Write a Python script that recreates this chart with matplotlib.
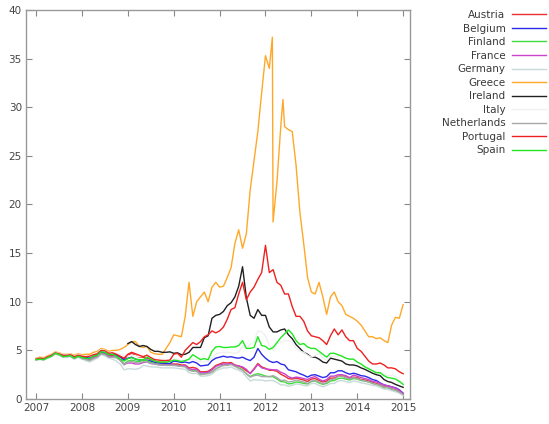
import numpy as np
import matplotlib
matplotlib.use("Agg")
import matplotlib.pyplot as plt

# monthly grid: Jan 2007 .. Jan 2015
months = [2007 + m / 12 for m in range(97)]
nan = float("nan")

austria = [4.05, 4.15, 4.1, 4.3, 4.45, 4.7, 4.6, 4.4, 4.4, 4.45, 4.25, 4.4,
           4.25, 4.2, 4.1, 4.3, 4.4, 4.75, 4.65, 4.45, 4.5, 4.5, 4.3, 4.1,
           4.5, 4.7, 4.5, 4.3, 4.3, 4.2, 4.05, 3.9, 3.8, 3.75, 3.7, 3.6,
           3.6, 3.6, 3.5, 3.5, 3.2, 3.25, 3.15, 2.8, 2.8, 2.85, 3.1, 3.45,
           3.6, 3.75, 3.7, 3.75, 3.5, 3.4, 3.2, 2.9, 2.65, 3.1, 3.65, 3.3,
           3.15, 2.95, 2.95, 2.85, 2.55, 2.35, 2.1, 2.05, 2.15, 2.05, 1.95, 1.8,
           2.05, 2.1, 1.9, 1.75, 1.85, 2.15, 2.15, 2.35, 2.4, 2.25, 2.1, 2.25,
           2.2, 2.0, 1.95, 1.85, 1.7, 1.6, 1.45, 1.25, 1.2, 1.05, 0.95, 0.75,
           0.5]
belgium = [4.1, 4.15, 4.1, 4.3, 4.45, 4.7, 4.6, 4.45, 4.45, 4.5, 4.3, 4.5,
           4.35, 4.3, 4.2, 4.4, 4.55, 4.85, 4.75, 4.55, 4.6, 4.5, 4.35, 4.0,
           4.2, 4.3, 4.1, 4.0, 4.0, 4.0, 3.9, 3.75, 3.7, 3.65, 3.65, 3.65,
           3.9, 3.85, 3.75, 3.8, 3.7, 3.85, 3.7, 3.4, 3.45, 3.5, 3.95, 4.2,
           4.3, 4.4, 4.3, 4.35, 4.25, 4.2, 4.3, 4.1, 3.95, 4.3, 5.2, 4.6,
           4.2, 3.9, 3.75, 3.85, 3.6, 3.5, 3.0, 2.9, 2.8, 2.6, 2.45, 2.25,
           2.45, 2.5, 2.35, 2.2, 2.3, 2.7, 2.7, 2.9, 2.9, 2.7, 2.55, 2.65,
           2.55, 2.4, 2.35, 2.2, 2.0, 1.9, 1.65, 1.45, 1.35, 1.25, 1.15, 0.95,
           0.6]
finland = [4.05, 4.1, 4.05, 4.25, 4.4, 4.65, 4.55, 4.4, 4.4, 4.4, 4.2, 4.4,
           4.2, 4.1, 4.0, 4.2, 4.35, 4.7, 4.6, 4.35, 4.3, 4.25, 4.0, 3.6,
           3.9, 4.0, 3.9, 3.85, 4.0, 3.95, 3.75, 3.65, 3.55, 3.55, 3.5, 3.5,
           3.5, 3.45, 3.4, 3.35, 3.0, 2.9, 2.9, 2.55, 2.6, 2.65, 2.8, 3.1,
           3.3, 3.5, 3.5, 3.6, 3.4, 3.2, 3.0, 2.6, 2.3, 2.5, 2.6, 2.5,
           2.35, 2.3, 2.3, 2.05, 1.8, 1.75, 1.55, 1.6, 1.75, 1.7, 1.6, 1.55,
           1.8, 1.85, 1.65, 1.5, 1.6, 1.85, 1.9, 2.1, 2.15, 2.05, 1.95, 2.1,
           2.05, 1.9, 1.85, 1.75, 1.6, 1.5, 1.35, 1.15, 1.15, 1.0, 0.9, 0.7,
           0.45]
france = [4.05, 4.1, 4.05, 4.25, 4.4, 4.65, 4.55, 4.35, 4.4, 4.4, 4.2, 4.4,
          4.2, 4.1, 4.05, 4.25, 4.35, 4.7, 4.6, 4.4, 4.35, 4.3, 4.0, 3.55,
          3.7, 3.7, 3.6, 3.6, 3.75, 3.8, 3.65, 3.6, 3.55, 3.5, 3.5, 3.5,
          3.5, 3.45, 3.4, 3.45, 3.1, 3.05, 3.05, 2.7, 2.7, 2.75, 3.0, 3.35,
          3.5, 3.6, 3.6, 3.65, 3.45, 3.4, 3.3, 3.05, 2.6, 3.05, 3.55, 3.2,
          3.1, 3.05, 3.0, 3.0, 2.75, 2.6, 2.3, 2.15, 2.25, 2.2, 2.1, 2.0,
          2.2, 2.3, 2.05, 1.85, 2.0, 2.35, 2.35, 2.5, 2.5, 2.4, 2.2, 2.45,
          2.35, 2.2, 2.1, 2.0, 1.8, 1.75, 1.6, 1.45, 1.35, 1.25, 1.1, 0.9,
          0.55]
germany = [4.0, 4.05, 4.0, 4.2, 4.35, 4.6, 4.5, 4.3, 4.3, 4.35, 4.1, 4.3,
           4.1, 3.95, 3.8, 4.0, 4.2, 4.55, 4.45, 4.2, 4.1, 3.9, 3.6, 3.0,
           3.1, 3.1, 3.05, 3.15, 3.45, 3.4, 3.3, 3.3, 3.25, 3.2, 3.2, 3.2,
           3.2, 3.15, 3.1, 3.05, 2.7, 2.6, 2.65, 2.35, 2.35, 2.4, 2.55, 2.9,
           3.05, 3.2, 3.2, 3.3, 3.1, 2.95, 2.75, 2.3, 1.85, 2.0, 1.95, 1.95,
           1.85, 1.9, 1.9, 1.7, 1.45, 1.45, 1.3, 1.4, 1.55, 1.5, 1.4, 1.35,
           1.6, 1.6, 1.4, 1.25, 1.4, 1.6, 1.6, 1.85, 1.9, 1.8, 1.7, 1.85,
           1.8, 1.65, 1.6, 1.5, 1.4, 1.35, 1.2, 1.0, 1.0, 0.85, 0.75, 0.6,
           0.35]
ireland = [nan] * 24 + [
           5.7, 5.9, 5.6, 5.4, 5.5, 5.4, 5.1, 4.9, 4.9, 4.8, 4.8, 4.85,
           4.7, 4.75, 4.55, 4.6, 4.8, 5.3, 5.3, 5.3, 6.3, 6.5, 8.3, 8.6,
           8.7, 9.0, 9.6, 9.9, 10.5, 11.6, 13.6, 10.4, 8.6, 8.3, 9.2, 8.6,
           8.6, 7.4, 6.9, 6.9, 7.1, 7.2, 6.6, 6.2, 5.6, 5.2, 4.8, 4.6,
           4.3, 4.3, 4.1, 3.8, 3.7, 4.2, 4.1, 4.0, 3.9, 3.6, 3.5, 3.5,
           3.4, 3.2, 3.05, 2.85, 2.65, 2.5, 2.4, 2.0, 1.8, 1.7, 1.5, 1.35,
           1.2]
italy = [4.15, 4.2, 4.2, 4.4, 4.55, 4.8, 4.7, 4.55, 4.6, 4.6, 4.4, 4.55,
         4.45, 4.4, 4.4, 4.6, 4.75, 5.1, 5.0, 4.75, 4.85, 4.7, 4.6, 4.5,
         4.4, 4.5, 4.45, 4.35, 4.4, 4.55, 4.3, 4.15, 4.1, 4.1, 4.0, 4.05,
         4.15, 4.05, 3.95, 4.0, 4.05, 4.1, 4.0, 3.8, 3.85, 3.9, 4.2, 4.6,
         4.75, 4.8, 4.8, 4.75, 4.7, 4.8, 5.5, 5.2, 5.6, 5.9, 7.0, 6.9,
         6.5, 5.5, 5.0, 5.7, 5.8, 6.0, 6.0, 5.8, 5.2, 4.9, 4.8, 4.5,
         4.3, 4.5, 4.7, 4.2, 4.0, 4.4, 4.4, 4.4, 4.5, 4.2, 4.1, 4.1,
         3.8, 3.6, 3.4, 3.2, 3.0, 2.8, 2.75, 2.6, 2.4, 2.45, 2.3, 1.95,
         1.65]
netherlands = [4.05, 4.1, 4.05, 4.25, 4.4, 4.65, 4.55, 4.35, 4.35, 4.4, 4.15, 4.35,
               4.15, 4.05, 3.95, 4.15, 4.3, 4.65, 4.55, 4.3, 4.3, 4.25, 4.0, 3.5,
               3.8, 3.85, 3.75, 3.7, 3.85, 3.8, 3.65, 3.6, 3.5, 3.5, 3.45, 3.45,
               3.45, 3.4, 3.35, 3.3, 2.95, 2.85, 2.85, 2.5, 2.55, 2.6, 2.75, 3.1,
               3.3, 3.45, 3.45, 3.55, 3.35, 3.15, 2.95, 2.6, 2.25, 2.4, 2.45, 2.3,
               2.3, 2.3, 2.4, 2.2, 1.9, 1.95, 1.75, 1.8, 1.95, 1.85, 1.75, 1.6,
               1.85, 1.9, 1.75, 1.55, 1.7, 2.0, 2.05, 2.3, 2.35, 2.2, 2.05, 2.2,
               2.1, 1.95, 1.85, 1.75, 1.6, 1.5, 1.4, 1.2, 1.2, 1.0, 0.9, 0.7,
               0.45]
portugal = [4.1, 4.2, 4.15, 4.35, 4.5, 4.75, 4.65, 4.5, 4.5, 4.55, 4.35, 4.5,
            4.4, 4.35, 4.4, 4.55, 4.65, 5.0, 4.95, 4.7, 4.75, 4.6, 4.4, 4.2,
            4.6, 4.8, 4.65, 4.5, 4.35, 4.5, 4.25, 4.05, 4.0, 3.95, 3.95, 4.0,
            4.6, 4.7, 4.3, 5.0, 5.4, 5.8, 5.6, 5.9, 6.4, 6.6, 7.0, 6.8,
            7.0, 7.4, 8.2, 9.2, 9.4, 10.8, 12.0, 10.2, 11.0, 11.5, 12.3, 13.0,
            15.8, 13.0, 13.3, 12.0, 11.7, 10.8, 10.8, 9.5, 8.5, 8.5, 8.0, 7.0,
            6.5, 6.4, 6.3, 6.0, 5.6, 6.5, 7.2, 6.6, 7.1, 6.4, 6.0, 6.0,
            5.2, 4.9, 4.4, 3.9, 3.6, 3.6, 3.7, 3.5, 3.2, 3.2, 3.1, 2.8,
            2.6]
spain = [4.05, 4.1, 4.05, 4.25, 4.4, 4.7, 4.6, 4.35, 4.4, 4.45, 4.2, 4.4,
         4.25, 4.2, 4.15, 4.4, 4.5, 4.85, 4.8, 4.55, 4.6, 4.4, 4.1, 3.9,
         4.15, 4.25, 4.1, 4.05, 4.05, 4.3, 4.1, 3.9, 3.8, 3.8, 3.8, 3.85,
         4.0, 3.95, 3.85, 3.95, 4.1, 4.55, 4.3, 4.05, 4.15, 4.05, 4.9, 5.35,
         5.4, 5.3, 5.3, 5.35, 5.35, 5.5, 6.0, 5.2, 5.2, 5.3, 6.4, 5.5,
         5.4, 5.1, 5.3, 5.8, 6.3, 6.7, 7.1, 6.7, 6.0, 5.6, 5.7, 5.35,
         5.2, 5.2, 4.9, 4.6, 4.3, 4.7, 4.7, 4.55, 4.4, 4.2, 4.1, 4.1,
         3.8, 3.6, 3.3, 3.1, 2.9, 2.7, 2.7, 2.4, 2.2, 2.15, 2.05, 1.8,
         1.5]

# Greece has its own dates (extra points around the March 2012 exchange)
greece_dates = ([2007 + m / 12 for m in range(62)]
                + [2012.15, 2012.165, 2012.25, 2012.333, 2012.38, 2012.417,
                   2012.5, 2012.583, 2012.667, 2012.75, 2012.833, 2012.917]
                + [2013 + m / 12 for m in range(25)])
greece = [4.2, 4.3, 4.25, 4.45, 4.6, 4.85, 4.75, 4.6, 4.6, 4.65, 4.5, 4.65,
          4.55, 4.6, 4.6, 4.8, 4.9, 5.2, 5.1, 4.9, 5.0, 5.0, 5.1, 5.3,
          5.6, 5.9, 5.9, 5.4, 5.3, 5.4, 4.8, 4.65, 4.6, 4.6, 5.2, 5.8,
          6.6, 6.5, 6.4, 8.5, 12.0, 8.5, 10.0, 10.5, 11.0, 10.0, 11.5, 12.0,
          11.5, 11.6, 12.5, 13.5, 16.0, 17.4, 15.5, 17.0, 21.5, 24.5, 27.5, 31.5,
          35.3, 34.0,
          37.2, 18.2, 22.3, 28.0, 30.8, 28.0, 27.7, 27.5, 24.0, 19.2, 16.0, 12.5,
          11.0, 10.8, 12.0, 10.5, 8.7, 10.5, 11.0, 10.0, 9.6, 8.7, 8.5, 8.3,
          8.0, 7.6, 7.0, 6.4, 6.4, 6.2, 6.3, 6.0, 5.8, 7.6, 8.4, 8.3,
          9.7]

countries = ["Austria", "Belgium", "Finland", "France", "Germany", "Greece",
             "Ireland", "Italy", "Netherlands", "Portugal", "Spain"]
colors = ["#e83030", "#2a2ae8", "#40dd40", "#cc44cc", "#c8dada", "#ffa828",
          "#202020", "#f0f0f0", "#a8a8a8", "#ee2020", "#20e820"]
series = [austria, belgium, finland, france, germany, greece,
          ireland, italy, netherlands, portugal, spain]
xticks = list(range(2007, 2016))
yticks = list(range(0, 41, 5))

fig = plt.figure(figsize=(5.49, 4.24), dpi=100)
ax = fig.add_axes([26 / 549, 1 - 399 / 424, 384 / 549, 389 / 424])

for name, col, vals in zip(countries, colors, series):
    xs = greece_dates if name == "Greece" else months
    ax.plot(xs, vals, color=col, lw=1.0, label=name)

ax.set_xlim(2006.78, 2015.15)
ax.set_ylim(0, 40)
ax.set_xticks(xticks)
ax.set_yticks(yticks)
ax.tick_params(direction="in", length=4, width=0.8, color="#888888",
               labelcolor="#444444", labelsize=7.5, top=True, right=True,
               pad=3)
for s in ax.spines.values():
    s.set_color("#999999")
    s.set_linewidth(1.0)

leg = fig.legend(loc="upper right", bbox_to_anchor=(546 / 549, 1 - 10 / 424),
                 frameon=False, markerfirst=False, fontsize=7.5,
                 handlelength=3.3, handletextpad=0.6, labelspacing=0.34,
                 borderpad=0, borderaxespad=0)
for t in leg.get_texts():
    t.set_color("#3a3a3a")

fig.savefig("out.png", dpi=100)
